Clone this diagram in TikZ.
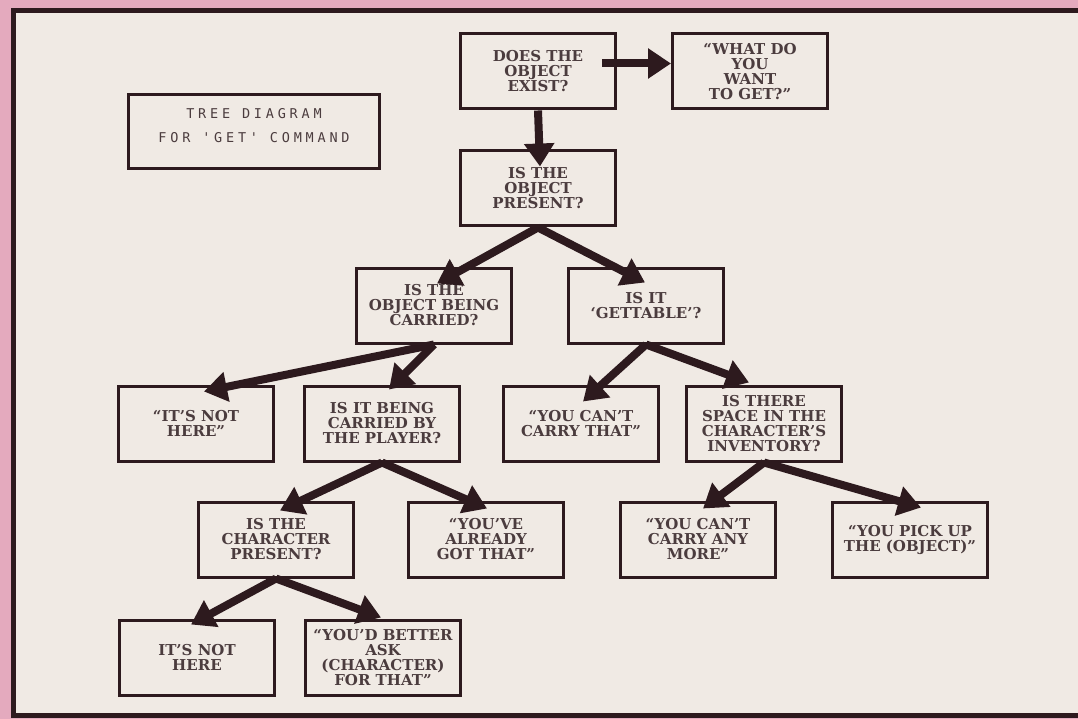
\documentclass[tikz,border=0pt]{standalone}
\usepackage{fontspec}
\newfontfamily\titlefont[LetterSpace=28]{DejaVu Sans Mono}
\newfontfamily\boxfont[Ligatures=TeX]{DejaVu Serif}
\usetikzlibrary{arrows.meta, positioning}
\definecolor{pinkbg}{RGB}{228,170,190}
\definecolor{paper}{RGB}{240,234,228}
\definecolor{ink}{RGB}{45,26,30}
\definecolor{inktext}{RGB}{75,60,62}

\begin{document}
\begin{tikzpicture}[
  x=1pt, y=-1pt,
  qbox/.style={rectangle, draw=ink, line width=3pt, fill=paper,
               minimum width=155pt, minimum height=75pt, inner sep=2pt,
               font=\boxfont\bfseries\fontsize{15}{15}\selectfont, text=inktext, align=center},
  tbox/.style={rectangle, draw=ink, line width=3pt, fill=paper,
               minimum width=251pt, minimum height=74pt, text depth=13pt,
               font=\titlefont\fontsize{13.5}{24}\selectfont, text=inktext, align=center},
  arr/.style={-{Triangle[length=23pt,width=29pt]}, line width=8pt, draw=ink}
]
  \useasboundingbox (0,0) rectangle (1078,719);
  \fill[pinkbg] (0,0) rectangle (1078,719);
  \draw[line width=5pt, draw=ink, fill=paper] (13.5,10.5) rectangle (1090,715);

  % Title
  \node[tbox] (title) at (254,131.5) {TREE DIAGRAM\\FOR 'GET' COMMAND};

  % Top of the tree
  \node[qbox] (exist) at (538,71.5) {DOES THE\\OBJECT\\EXIST?};
  \node[qbox, right=54pt of exist] (want) {``WHAT DO\\YOU\\WANT\\TO GET?''};
  \node[qbox, below=39pt of exist] (present) {IS THE\\OBJECT\\PRESENT?};

  % Second level
  \node[qbox, below=39pt of present, xshift=-104pt] (carried) {IS THE\\OBJECT BEING\\CARRIED?};
  \node[qbox, right=54pt of carried] (gettable) {IS IT\\`GETTABLE'?};

  % Third level
  \node[qbox, below=40pt of carried, xshift=-52pt] (player) {IS IT BEING\\CARRIED BY\\THE PLAYER?};
  \node[qbox, left=28pt of player] (nothere) {``IT'S NOT\\HERE''};
  \node[qbox, below=40pt of gettable, xshift=-65pt] (cantcarry) {``YOU CAN'T\\CARRY THAT''};
  \node[qbox, right=25pt of cantcarry] (space) {IS THERE\\SPACE IN THE\\CHARACTER'S\\INVENTORY?};

  % Fourth level
  \node[qbox, below=38pt of player, xshift=-106pt] (character) {IS THE\\CHARACTER\\PRESENT?};
  \node[qbox, right=52pt of character] (already) {``YOU'VE\\ALREADY\\GOT THAT''};
  \node[qbox, below=38pt of space, xshift=-66pt] (anymore) {``YOU CAN'T\\CARRY ANY\\MORE''};
  \node[qbox, right=54pt of anymore] (pickup) {``YOU PICK UP\\THE (OBJECT)''};

  % Bottom level
  \node[qbox, below=40pt of character, xshift=-79pt] (nothereb) {IT'S NOT\\HERE};
  \node[qbox, right=28pt of nothereb] (better) {``YOU'D BETTER\\ASK\\(CHARACTER)\\FOR THAT''};

  % Arrows
  \draw[arr] ([xshift=-15pt,yshift=8pt]exist.east) -- ([yshift=8pt]want.west);
  \draw[arr] (exist.south) -- ([xshift=2pt,yshift=-17pt]present.north);
  \draw[arr] (present.south) -- ([xshift=3pt,yshift=-17pt]carried.north);
  \draw[arr] (present.south) -- ([xshift=-1pt,yshift=-16pt]gettable.north);
  \draw[arr] (carried.south) -- ([xshift=8pt,yshift=-7pt]nothere.north);
  \draw[arr] (carried.south) -- ([xshift=7pt,yshift=-5pt]player.north);
  \draw[arr] (gettable.south) -- ([xshift=2pt,yshift=-17pt]cantcarry.north);
  \draw[arr] (gettable.south) -- ([xshift=-15pt,yshift=2pt]space.north);
  \draw[arr] (player.south) -- ([xshift=4pt,yshift=-10pt]character.north);
  \draw[arr] (player.south) -- ([xshift=1pt,yshift=-8pt]already.north);
  \draw[arr] (space.south) -- ([xshift=5pt,yshift=-8pt]anymore.north);
  \draw[arr] (space.south) -- ([xshift=11pt,yshift=-7pt]pickup.north);
  \draw[arr] (character.south) -- ([xshift=-6pt,yshift=-6pt]nothereb.north);
  \draw[arr] (character.south) -- ([xshift=-2pt,yshift=1pt]better.north);
\end{tikzpicture}
\end{document}
